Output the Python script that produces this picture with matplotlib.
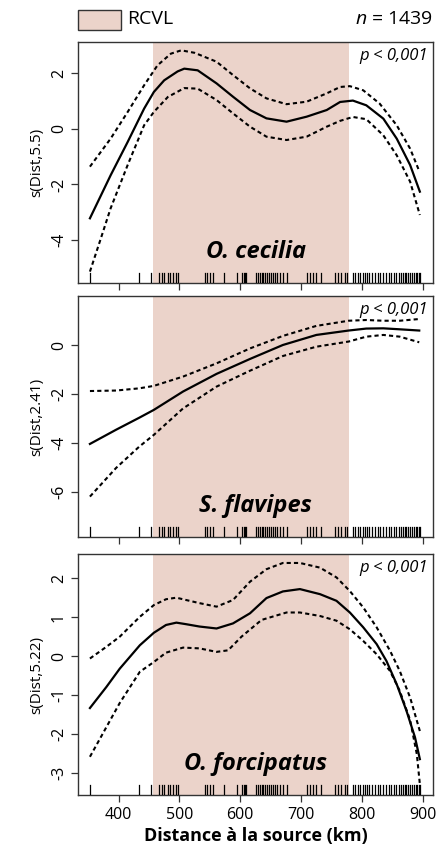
import numpy as np
import matplotlib
matplotlib.use('Agg')
import matplotlib.pyplot as plt
from matplotlib.patches import Rectangle
import matplotlib.transforms as mtransforms

plt.rcParams['font.family'] = ['Open Sans', 'DejaVu Sans']
plt.rcParams['mathtext.fontset'] = 'custom'
plt.rcParams['mathtext.rm'] = 'Open Sans'
plt.rcParams['mathtext.it'] = 'Open Sans:italic'

# RCVL zone (km)
rcvl_start, rcvl_end = 457, 778

# rug: sampled distances (km)
rug_km = [353, 433, 454, 466, 471, 475, 481, 485, 489, 494, 498,
          542, 545, 550, 555, 573, 595, 603, 606, 608, 610,
          626, 629, 632, 635, 638, 641, 644, 647, 650, 653, 657, 661, 665, 670, 676,
          709, 714, 720, 725, 733, 755, 761, 766, 772, 775,
          785, 789, 793, 797, 801, 805, 808, 812, 817, 822, 826, 830, 835, 840, 844,
          848, 852, 856, 860, 864, 867, 870, 873, 876, 879, 882, 885, 888, 891, 894, 896]

# O. cecilia
cec_fx = [353, 387, 415, 442, 458, 475, 497, 508, 530, 561, 588, 616, 643, 676, 709, 742, 764, 785, 807, 835, 857, 879, 895]
cec_fit = [-3.22, -1.67, -0.47, 0.73, 1.33, 1.75, 2.07, 2.17, 2.11, 1.64, 1.16, 0.68, 0.38, 0.26, 0.44, 0.68, 0.97, 1.02, 0.85, 0.37, -0.35, -1.30, -2.26]
cec_ux = [353, 387, 415, 442, 464, 486, 503, 525, 561, 588, 616, 643, 676, 709, 742, 764, 780, 802, 829, 857, 879, 894]
cec_up = [-1.36, -0.35, 0.61, 1.57, 2.29, 2.71, 2.83, 2.74, 2.42, 1.94, 1.46, 1.10, 0.89, 0.98, 1.28, 1.51, 1.54, 1.39, 0.91, 0.13, -0.71, -1.52]
cec_lx = [353, 371, 387, 415, 442, 458, 481, 508, 530, 561, 588, 616, 643, 676, 709, 742, 764, 785, 807, 835, 857, 879, 895]
cec_lo = [-5.14, -3.94, -2.86, -1.30, 0.13, 0.61, 1.15, 1.47, 1.45, 1.04, 0.56, 0.08, -0.28, -0.40, -0.28, 0.08, 0.29, 0.43, 0.35, -0.23, -0.95, -1.90, -3.10]

# S. flavipes
fla_x = [353, 396, 434, 458, 506, 561, 616, 670, 725, 778, 807, 835, 862, 894]
fla_fit = [-4.04, -3.46, -2.97, -2.65, -1.90, -1.18, -0.57, 0.00, 0.41, 0.59, 0.67, 0.68, 0.64, 0.59]
fla_up = [-1.88, -1.86, -1.77, -1.67, -1.29, -0.75, -0.14, 0.37, 0.78, 0.99, 1.02, 0.99, 0.99, 1.06]
fla_lo = [-6.19, -5.02, -4.15, -3.67, -2.59, -1.70, -1.05, -0.45, -0.07, 0.14, 0.34, 0.41, 0.34, 0.11]

# O. forcipatus
for_fx = [353, 380, 402, 435, 458, 478, 495, 511, 533, 561, 588, 616, 643, 670, 698, 731, 758, 780, 802, 824, 840, 857, 873, 887, 895]
for_fit = [-1.33, -0.79, -0.32, 0.28, 0.60, 0.80, 0.86, 0.82, 0.76, 0.71, 0.84, 1.10, 1.49, 1.66, 1.72, 1.59, 1.42, 1.12, 0.74, 0.31, -0.12, -0.72, -1.40, -2.08, -2.64]
for_ux = [353, 380, 402, 435, 458, 478, 495, 511, 533, 561, 588, 616, 643, 670, 698, 731, 758, 780, 802, 824, 846, 862, 879, 895]
for_up = [-0.06, 0.24, 0.50, 1.01, 1.31, 1.46, 1.50, 1.44, 1.36, 1.27, 1.44, 1.91, 2.23, 2.39, 2.39, 2.27, 2.02, 1.67, 1.25, 0.74, 0.14, -0.38, -1.06, -1.92]
for_lx = [353, 380, 402, 435, 458, 478, 506, 533, 561, 580, 602, 635, 676, 698, 731, 758, 780, 802, 824, 846, 862, 879, 890, 895]
for_lo = [-2.58, -1.82, -1.20, -0.40, -0.15, 0.09, 0.22, 0.20, 0.11, 0.15, 0.50, 0.93, 1.12, 1.12, 1.03, 0.91, 0.69, 0.39, 0.05, -0.38, -0.89, -1.64, -2.51, -3.28]

panels = [
    ('O. cecilia', 's(Dist,5.5)', (cec_fx, cec_fit), (cec_ux, cec_up), (cec_lx, cec_lo), (-5.55, 3.13), [-4, -2, 0, 2]),
    ('S. flavipes', 's(Dist,2.41)', (fla_x, fla_fit), (fla_x, fla_up), (fla_x, fla_lo), (-7.84, 2.0), [-6, -4, -2, 0]),
    ('O. forcipatus', 's(Dist,5.22)', (for_fx, for_fit), (for_ux, for_up), (for_lx, for_lo), (-3.56, 2.62), [-3, -2, -1, 0, 1, 2]),
]

W, H = 445, 849
fig = plt.figure(figsize=(W / 100, H / 100), dpi=100)

shade = '#ebd3ca'
tops = [42, 296, 554]
ph = 241
for (name, ylab, fit, up, lo, ylim, yt), top in zip(panels, tops):
    ax = fig.add_axes([78 / W, 1 - (top + ph) / H, 355 / W, ph / H])
    ax.axvspan(rcvl_start, rcvl_end, color=shade, lw=0, zorder=0)
    ax.plot(*fit, color='black', lw=1.6, zorder=3)
    ax.plot(*up, color='black', lw=1.5, ls=(0, (2, 1.5)), zorder=3)
    ax.plot(*lo, color='black', lw=1.5, ls=(0, (2, 1.5)), zorder=3)
    trans = mtransforms.blended_transform_factory(ax.transData, ax.transAxes)
    for r in rug_km:
        ax.plot([r, r], [0.005, 0.042], color='black', lw=0.9, transform=trans, zorder=4)
    ax.set_xlim(333.4, 916.6)
    ax.set_ylim(*ylim)
    ax.set_xticks([400, 500, 600, 700, 800, 900])
    ax.set_yticks(yt)
    ax.set_yticklabels([str(v) for v in yt], rotation=90, va='center')
    ax.tick_params(axis='both', direction='out', length=5, width=0.9, color='#333333', labelsize=11.5)
    ax.tick_params(axis='y', pad=3)
    ax.set_ylabel(ylab, fontsize=11, labelpad=5)
    for s in ax.spines.values():
        s.set_color('#333333')
        s.set_linewidth(1.0)
    if top != tops[-1]:
        ax.tick_params(axis='x', labelbottom=False)
    else:
        ax.set_xlabel('Distance à la source (km)', fontsize=13, fontweight='bold', labelpad=3)
    ax.text(0.5, 0.128, name, transform=ax.transAxes, ha='center', va='center',
            fontsize=17, fontweight='bold', style='italic')
    ax.text(0.985, 0.942, 'p < 0,001', transform=ax.transAxes, ha='right', va='center',
            fontsize=12, style='italic')

# legend at top
fig.patches.append(Rectangle((78 / W, 1 - 29.5 / H), 42.5 / W, 20 / H, transform=fig.transFigure,
                             facecolor=shade, edgecolor='#333333', lw=1.0))
fig.text(127 / W, 1 - 19 / H, 'RCVL', ha='left', va='center', fontsize=14)
fig.text(433 / W, 1 - 19 / H, r'$\it{n}$ = 1439', ha='right', va='center', fontsize=14)

fig.savefig('out.png', dpi=100)
